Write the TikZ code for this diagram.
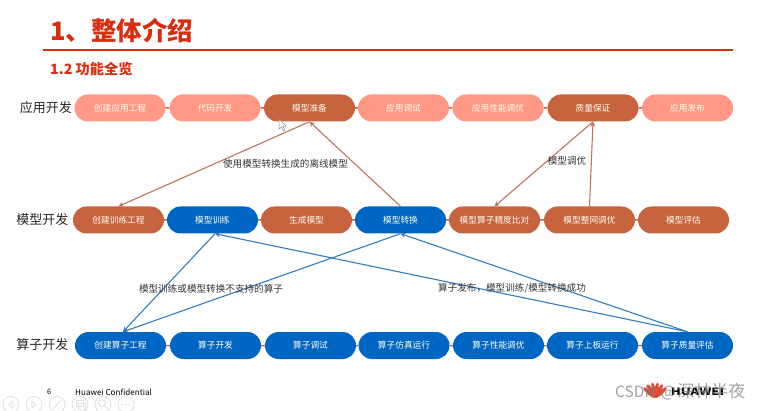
\documentclass[tikz,border=0pt]{standalone}
\usepackage{fontspec}
\setmainfont{Noto Sans CJK SC}
\usepackage{tikz}
\usetikzlibrary{shapes.misc,arrows.meta}
\definecolor{salmon}{RGB}{255,153,133}
\definecolor{rust}{RGB}{199,100,64}
\definecolor{hwblue}{RGB}{0,102,196}
\definecolor{hwred}{RGB}{217,45,15}
\definecolor{linkbrown}{RGB}{190,115,95}
\definecolor{linkblue}{RGB}{50,125,190}
\definecolor{navgrey}{RGB}{225,225,225}
\tikzset{
  pill/.style={rounded rectangle,minimum width=91pt,minimum height=27pt,inner sep=0pt,
    font=\fontsize{8.7}{10}\selectfont,text=white!92!yellow},
  rowlabel/.style={font=\fontsize{13}{15}\selectfont,text=black!85,anchor=east,inner sep=0pt},
  note/.style={font=\fontsize{9.6}{11}\selectfont,text=black!80},
  linkb/.style={draw=linkbrown,line width=1.1pt,-{Stealth[length=5pt,width=5pt]}},
  linka/.style={draw=linkblue,line width=1.1pt,-{Stealth[length=5pt,width=5pt]}}
}
\newcommand{\drawrow}[3]{
  \foreach \name/\x/\col/\txt in {#3}{
    \node[pill,fill=\col] (#1\name) at (\x,#2) {\txt};
  }
  \foreach \a/\b in {1/2,2/3,3/4,4/5,5/6,6/7}{
    \draw[rust,line width=1.5pt] (#1\a)--(#1\b);
  }
}
\begin{document}
\begin{tikzpicture}[x=1pt,y=-1pt]
\useasboundingbox (0,0) rectangle (767,411);
% heading
\node[anchor=west,inner sep=0pt,text=hwred,font=\fontsize{25.5}{28}\selectfont\bfseries] (title) at (50,31) {1、整体介绍};
\draw[hwred,line width=1.5pt] (43,50)--(733,50);
\node[anchor=west,inner sep=0pt,text=hwred,font=\fontsize{14.2}{16}\selectfont\bfseries] (subtitle) at (50,69) {1.2 功能全览};
% row labels
\node[rowlabel] (rowa) at (72,108) {应用开发};
\node[rowlabel] (rowm) at (68.5,220) {模型开发};
\node[rowlabel] (rowo) at (68.5,345) {算子开发};
% the three rows
\drawrow{a}{108}{1/120/salmon/创建应用工程,2/215/salmon/代码开发,3/309.5/rust/模型准备,4/403.5/salmon/应用调试,5/498/salmon/应用性能调优,6/593/rust/质量保证,7/687.5/salmon/应用发布}
\drawrow{m}{220}{1/118.5/rust/创建训练工程,2/212.5/hwblue/模型训练,3/306.5/rust/生成模型,4/400.5/hwblue/模型转换,5/494.5/rust/模型算子精度比对,6/589.5/rust/模型整网调优,7/683.5/rust/模型评估}
\drawrow{o}{345.5}{1/120.5/hwblue/创建算子工程,2/215.5/hwblue/算子开发,3/310.5/hwblue/算子调试,4/404/hwblue/算子仿真运行,5/498.5/hwblue/算子性能调优,6/592.5/hwblue/算子上板运行,7/687.5/hwblue/算子质量评估}
% arrows
\draw[linkb] (a3.south)--(m1.north);
\draw[linkb] (m4.north)--(a3.south);
\draw[linkb] (a6.south)--(m5.north);
\draw[linkb] (m6.north)--(a6.south);
\draw[linka] ([xshift=2.5pt]m2.south)--([xshift=2.5pt]o1.north);
\draw[linka] (m4.south)--([xshift=2.5pt]o1.north);
\draw[linka] (o7.north)--([xshift=2.5pt]m2.south);
\draw[linka] (o7.north)--(m4.south);
% notes
\node[note] (notea) at (285.5,163.5) {使用模型转换生成的离线模型};
\node[note] (noteb) at (567,161) {模型调优};
\node[note] (notec) at (211,288.5) {模型训练或模型转换不支持的算子};
\node[note] (noted) at (512,288.5) {算子发布，模型训练/模型转换成功};
% cursor
\draw[black!45,fill=white,line width=.5pt] (279,119)--(279,129)--(281.5,127)--(283.5,131)--(285,130)--(283,126.5)--(286,126)--cycle;
% footer
\node[anchor=west,inner sep=0pt,font=\fontsize{7.5}{8}\selectfont] (pageno) at (47,392) {6};
\node[anchor=west,inner sep=0pt,font=\fontsize{8.1}{9}\selectfont] (conf) at (75,392) {Huawei Confidential};
\foreach \x in {11,34,57,80,103,126}{
  \draw[navgrey,line width=.8pt] (\x,404.5) circle (8);
}
\draw[navgrey,line width=.8pt] (13,401)--(9,404.5)--(13,408)--cycle (32,401)--(36,404.5)--(32,408)--cycle;
\draw[navgrey,line width=.8pt] (53,409)--(61,400);
\draw[navgrey,line width=.8pt] (76,400) rectangle (83,406) (78,403) rectangle (85,409);
\draw[navgrey,line width=.8pt] (102,403) circle (3.5) (104.5,405.5)--(108,409);
\foreach \x in {122.5,126,129.5}{
  \fill[navgrey] (\x,404.5) circle (1);
}
% logo and watermark
\foreach \a in {-48,-29,-10,10,29,48}{
  \fill[hwred!85,rotate around={\a:(655,398)}] (655,390) ellipse (2 and 7.5);
}
\node[anchor=center,inner sep=0pt,xscale=1.3,font=\fontsize{10}{11}\selectfont\bfseries] (brand) at (697.5,392) {HUAWEI};
\node[anchor=west,inner sep=0pt,text=black!50,opacity=.75,font=\fontsize{15.5}{17}\selectfont] (mark) at (615,392) {CSDN\hspace{5pt}@\hspace{2pt}{\fontsize{17}{17}\selectfont 深林半夜}};
\end{tikzpicture}
\end{document}
